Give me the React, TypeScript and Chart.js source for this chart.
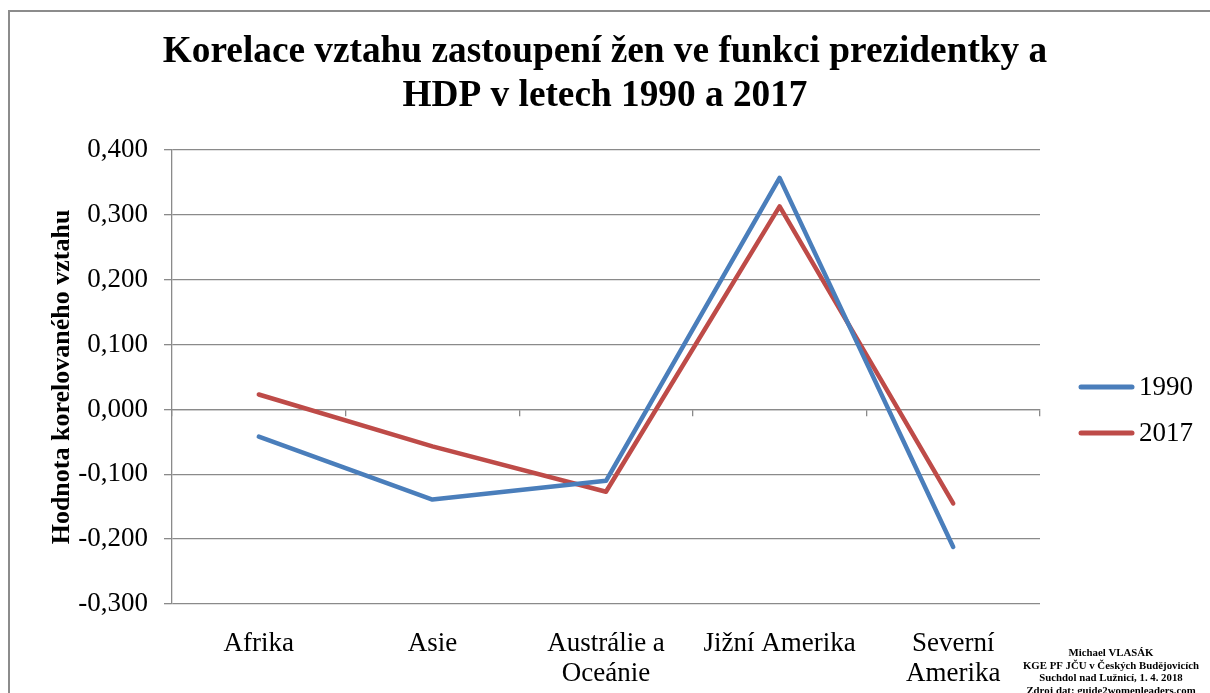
import React, { useEffect, useRef } from "react";
import { Chart, registerables } from "chart.js";

Chart.register(...registerables);

const categories: (string | string[])[] = [
  "Afrika",
  "Asie",
  ["Austrálie a", "Oceánie"],
  "Jižní Amerika",
  ["Severní", "Amerika"],
];
const series1990 = [-0.042, -0.139, -0.11, 0.357, -0.212];
const series2017 = [0.023, -0.057, -0.127, 0.313, -0.145];
const seriesLabels = ["1990", "2017"];
const seriesColors = ["#4a7ebb", "#be4b48"];
const titleLines = [
  "Korelace vztahu zastoupení žen ve funkci prezidentky a",
  "HDP v letech 1990 a 2017",
];
const yAxisTitle = "Hodnota korelovaného vztahu";
const footnoteLines = [
  "Michael VLASÁK",
  "KGE PF JČU v Českých Budějovicích",
  "Suchdol nad Lužnicí, 1. 4. 2018",
  "Zdroj dat: guide2womenleaders.com",
];

const FONT = "'Liberation Serif', 'Times New Roman', serif";
const GRID = "#8a8a8a";

const extrasPlugin = {
  id: "extras",
  afterDraw(chart: any) {
    const ctx = chart.ctx as CanvasRenderingContext2D;
    ctx.save();
    // legend
    chart.data.datasets.forEach((ds: any, i: number) => {
      const y = 387 + i * 46;
      ctx.strokeStyle = ds.borderColor;
      ctx.lineWidth = 5;
      ctx.lineCap = "round";
      ctx.beginPath();
      ctx.moveTo(1081, y);
      ctx.lineTo(1132, y);
      ctx.stroke();
      ctx.fillStyle = "#000";
      ctx.font = `27px ${FONT}`;
      ctx.textAlign = "left";
      ctx.textBaseline = "middle";
      ctx.fillText(ds.label, 1139, y + 1);
    });
    // footnote
    ctx.font = `bold 10.8px ${FONT}`;
    ctx.textAlign = "center";
    ctx.textBaseline = "middle";
    ctx.fillStyle = "#000";
    footnoteLines.forEach((t, i) => {
      ctx.fillText(t, 1111, 653 + i * 12.8);
    });
    ctx.restore();
  },
};

export default function App() {
  const ref = useRef<HTMLCanvasElement>(null);
  useEffect(() => {
    if (!ref.current) return;
    const chart = new Chart(ref.current, {
      type: "line",
      data: {
        labels: categories as any,
        datasets: [
          {
            label: seriesLabels[0],
            data: series1990,
            borderColor: seriesColors[0],
            backgroundColor: seriesColors[0],
            borderWidth: 4.5,
            pointRadius: 0,
            tension: 0,
            borderJoinStyle: "round",
            borderCapStyle: "round",
          },
          {
            label: seriesLabels[1],
            data: series2017,
            borderColor: seriesColors[1],
            backgroundColor: seriesColors[1],
            borderWidth: 4.5,
            pointRadius: 0,
            tension: 0,
            borderJoinStyle: "round",
            borderCapStyle: "round",
          },
        ],
      },
      options: {
        responsive: false,
        animation: false,
        layout: { padding: { top: 0, left: 0, right: 0, bottom: 9 } },
        plugins: {
          legend: { display: false },
          tooltip: { enabled: false },
          title: {
            display: true,
            text: titleLines,
            color: "#000",
            font: { family: FONT, size: 37.3, weight: "bold", lineHeight: 1.19 },
            padding: { top: 30, bottom: 31.2 },
          },
        },
        scales: {
          x: {
            type: "category",
            offset: true,
            grid: { display: false },
            border: { display: false },
            ticks: {
              color: "#000",
              padding: 17,
              maxRotation: 0,
              autoSkip: false,
              font: { family: FONT, size: 27, lineHeight: 1.1 },
            },
            afterFit: (s: any) => {
              s.height = 80;
            },
          },
          x2: {
            type: "category",
            axis: "x",
            position: { y: 0 },
            offset: true,
            grid: {
              display: true,
              offset: true,
              drawOnChartArea: false,
              drawTicks: true,
              tickLength: 6,
              color: GRID,
              lineWidth: 1.3,
            },
            border: { display: true, color: GRID, width: 1.3 },
            ticks: { display: false },
          } as any,
          y: {
            min: -0.3,
            max: 0.4,
            ticks: {
              stepSize: 0.1,
              color: "#000",
              padding: 16,
              font: { family: FONT, size: 27 },
              callback: (v: any) => {
                const n = Math.round(Number(v) * 1000) / 1000;
                return n.toFixed(3).replace(".", ",");
              },
            },
            grid: {
              color: GRID,
              lineWidth: 1.3,
              drawTicks: true,
              tickLength: 8,
            },
            border: { display: true, color: GRID, width: 1.3 },
            title: {
              display: true,
              text: yAxisTitle,
              color: "#000",
              font: { family: FONT, size: 26, weight: "bold", lineHeight: 1.2 },
              padding: { top: 47, bottom: 0 },
            },
            afterFit: (s: any) => {
              s.width = 172;
            },
          },
          yRightSpace: {
            type: "linear",
            axis: "y",
            position: "right",
            min: -0.3,
            max: 0.4,
            grid: { display: false, drawOnChartArea: false },
            border: { display: false },
            ticks: { display: false },
            afterFit: (s: any) => {
              s.width = 170;
            },
          } as any,
        },
      },
      plugins: [extrasPlugin],
    });
    return () => chart.destroy();
  }, []);

  return (
    <div
      style={{
        position: "fixed",
        left: 0,
        top: 0,
        width: 1210,
        height: 693,
        overflow: "hidden",
        background: "#fff",
      }}
    >
      <div
        style={{
          position: "absolute",
          left: 8,
          top: 10,
          width: 1300,
          height: 800,
          border: "2px solid #8c8c8c",
          boxSizing: "border-box",
        }}
      />
      <canvas
        ref={ref}
        width={1210}
        height={693}
        style={{ position: "absolute", left: 0, top: 0, width: 1210, height: 693 }}
      />
    </div>
  );
}
